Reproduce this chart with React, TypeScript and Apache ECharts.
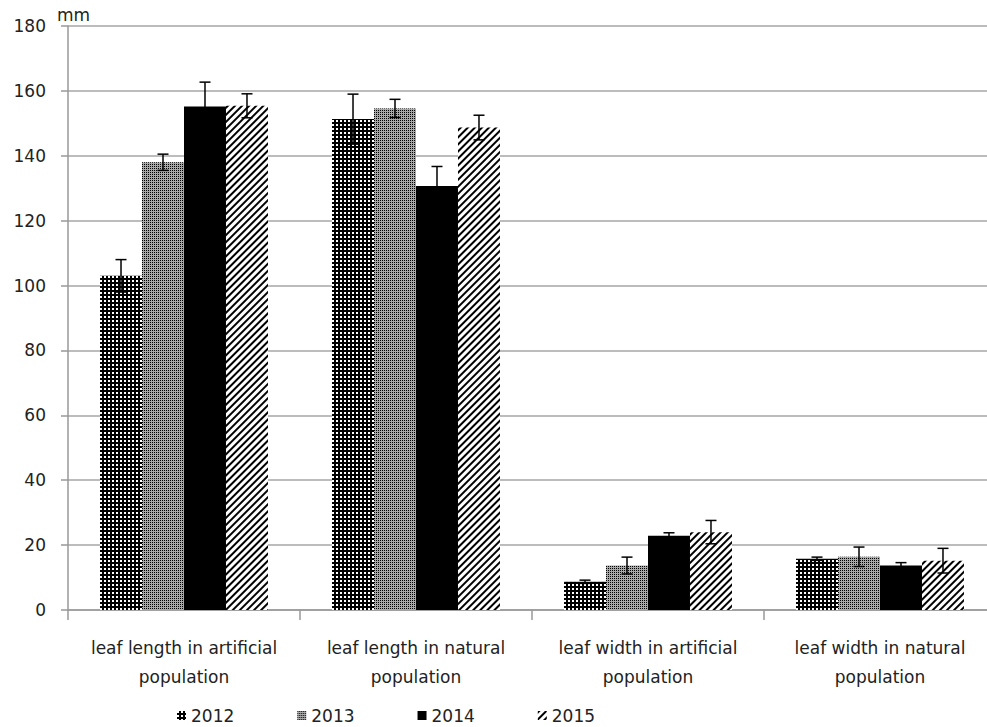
import React, { useEffect, useRef } from "react";
import * as echarts from "echarts";

const categories = [
  "leaf length in artificial\npopulation",
  "leaf length in natural\npopulation",
  "leaf width in artificial\npopulation",
  "leaf width in natural\npopulation",
];
const years = ["2012", "2013", "2014", "2015"];
const values2012 = [103, 151.3, 8.7, 15.8];
const values2013 = [138, 154.6, 13.7, 16.4];
const values2014 = [155.2, 130.7, 22.9, 13.7];
const values2015 = [155.4, 148.7, 24.0, 15.2];
const errors2012 = [5, 7.7, 0.5, 0.5];
const errors2013 = [2.5, 2.8, 2.6, 3.0];
const errors2014 = [7.5, 6, 0.9, 0.9];
const errors2015 = [3.7, 3.8, 3.6, 3.8];
const yTicks = { min: 0, max: 180, interval: 20 };

const allValues = [values2012, values2013, values2014, values2015];
const allErrors = [errors2012, errors2013, errors2014, errors2015];

const CAT_GAP = 0.276;

export default function App() {
  const ref = useRef<HTMLDivElement>(null);
  useEffect(() => {
    document.body.style.margin = "0";
    document.body.style.overflow = "hidden";
    document.documentElement.style.overflow = "hidden";
    const chart = echarts.init(ref.current!, null, { renderer: "svg" });

    const decals: any[] = [
      {
        symbol: "rect",
        color: "#ffffff",
        symbolSize: 1,
        dashArrayX: [2, 2],
        dashArrayY: [2, 2],
        rotation: 0,
      },
      {
        symbol: "rect",
        color: "#000000",
        symbolSize: 1,
        dashArrayX: [1, 1],
        dashArrayY: [1, 1],
        rotation: 0,
      },
      null,
      {
        symbol: "rect",
        color: "#000000",
        symbolSize: 1,
        dashArrayX: [1, 0],
        dashArrayY: [1.4, 3],
        rotation: -Math.PI / 4,
      },
    ];
    const colors = ["#000000", "#a8a8a8", "#000000", "#ffffff"];

    const barSeries = years.map((y, i) => ({
      name: y,
      type: "bar",
      data: allValues[i],
      barGap: "0%",
      barCategoryGap: CAT_GAP * 100 + "%",
      itemStyle: decals[i]
        ? { color: colors[i], decal: decals[i] }
        : { color: colors[i] },
      z: 2,
    }));

    const errSeries = years.map((y, i) => ({
      name: "err" + y,
      type: "custom",
      z: 5,
      data: allValues[i].map((v, k) => [k, v - allErrors[i][k], v + allErrors[i][k]]),
      encode: { x: 0, y: [1, 2] },
      renderItem: (params: any, api: any) => {
        const cat = api.value(0);
        const lo = api.coord([cat, api.value(1)]);
        const hi = api.coord([cat, api.value(2)]);
        const catW = api.size([1, 0])[0];
        const bw = (catW * (1 - CAT_GAP)) / 4;
        const x = lo[0] + (i - 1.5) * bw;
        const hw = 5.5;
        const st = { stroke: "#000", lineWidth: 1.5 };
        return {
          type: "group",
          children: [
            { type: "line", shape: { x1: x, y1: lo[1], x2: x, y2: hi[1] }, style: st },
            { type: "line", shape: { x1: x - hw, y1: hi[1], x2: x + hw, y2: hi[1] }, style: st },
            { type: "line", shape: { x1: x - hw, y1: lo[1], x2: x + hw, y2: lo[1] }, style: st },
          ],
        };
      },
    }));

    chart.setOption({
      animation: false,
      aria: { enabled: false, decal: { show: false } },
      textStyle: { fontFamily: "DejaVu Sans" },
      grid: { left: 68, top: 26, right: 0, bottom: 117, containLabel: false },
      legend: {
        data: years,
        left: 172,
        top: 702,
        icon: "rect",
        itemWidth: 9,
        itemHeight: 9,
        itemGap: 63,
        textStyle: { fontSize: 17, color: "#222", fontFamily: "DejaVu Sans" },
      },
      graphic: [
        {
          type: "text",
          left: 57,
          top: 6,
          style: { text: "mm", font: "17px DejaVu Sans", fill: "#222" },
        },
      ],
      xAxis: {
        type: "category",
        data: categories,
        axisLine: { lineStyle: { color: "#999", width: 1.5 } },
        axisTick: { show: true, alignWithLabel: false, length: 10, lineStyle: { color: "#999", width: 1.5 } },
        axisLabel: {
          color: "#222",
          fontSize: 17,
          lineHeight: 29,
          margin: 23,
          interval: 0,
        },
      },
      yAxis: {
        type: "value",
        min: yTicks.min,
        max: yTicks.max,
        interval: yTicks.interval,
        axisLine: { show: true, lineStyle: { color: "#999", width: 1.5 } },
        axisTick: { show: true, length: 7, lineStyle: { color: "#999", width: 1.5 } },
        splitLine: { lineStyle: { color: "#a6a6a6", width: 1.5 } },
        axisLabel: { color: "#222", fontSize: 17, margin: 22 },
      },
      series: [...barSeries, ...errSeries],
    });
    return () => chart.dispose();
  }, []);
  return <div ref={ref} style={{ width: 996, height: 727 }} />;
}
